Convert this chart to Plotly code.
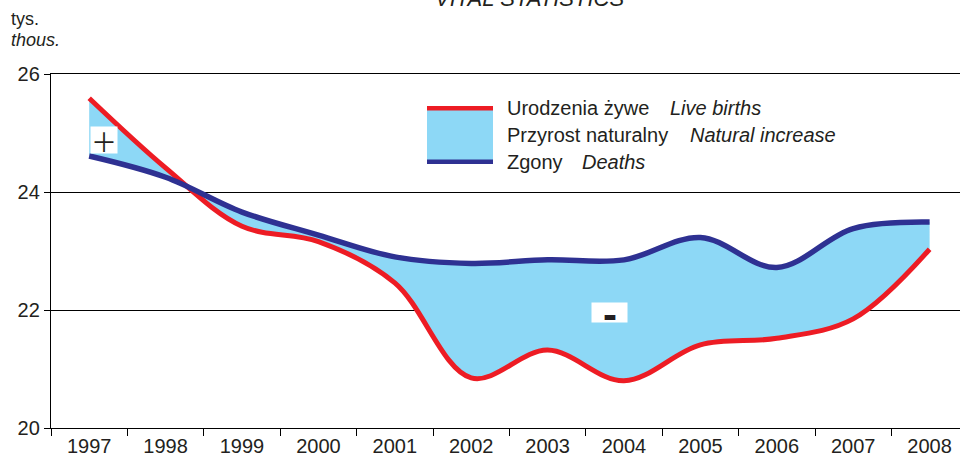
import plotly.graph_objects as go

# ---- data (thousands) ----
years = [1997, 1998, 1999, 2000, 2001, 2002, 2003, 2004, 2005, 2006, 2007, 2008]
year_labels = [str(y) for y in years]
births = [25.59, 24.41, 23.42, 23.16, 22.46, 20.85, 21.32, 20.80, 21.41, 21.52, 21.85, 23.03]
deaths = [24.61, 24.25, 23.66, 23.27, 22.90, 22.79, 22.85, 22.85, 23.23, 22.72, 23.38, 23.49]
y_ticks = [20, 22, 24, 26]

RED = "#ED1C24"
BLUE = "#2E3192"
LIGHT = "#8DD8F6"
TXT = "#231F20"
FONT = "Liberation Sans, Arial, sans-serif"

W, H = 960, 456
L, R, T, B = 51, 0, 74, 28
PW, PH = W - L - R, H - T - B


def px(x):
    return (x - L) / PW


def py(y):
    return (H - B - y) / PH


fig = go.Figure()
fig.add_trace(go.Scatter(
    x=years, y=births, mode="lines",
    line=dict(color=RED, width=5, shape="spline", smoothing=1.0),
    showlegend=False, hoverinfo="skip"))
fig.add_trace(go.Scatter(
    x=years, y=deaths, mode="lines",
    line=dict(color=BLUE, width=5.5, shape="spline", smoothing=1.0),
    fill="tonexty", fillcolor=LIGHT,
    showlegend=False, hoverinfo="skip"))

shapes = []
# legend symbol
shapes.append(dict(type="rect", xref="paper", yref="paper",
                   x0=px(427), x1=px(493), y0=py(164), y1=py(106),
                   fillcolor=LIGHT, line=dict(width=0)))
shapes.append(dict(type="line", xref="paper", yref="paper",
                   x0=px(427), x1=px(493), y0=py(108.3), y1=py(108.3),
                   line=dict(color=RED, width=4.5)))
shapes.append(dict(type="line", xref="paper", yref="paper",
                   x0=px(427), x1=px(493), y0=py(161.7), y1=py(161.7),
                   line=dict(color=BLUE, width=4.5)))

ann = []


def text(x, y, s, size=20, italic=False, xanchor="left", yanchor="middle", **kw):
    ann.append(dict(xref="paper", yref="paper", x=px(x), y=py(y), text=s,
                    showarrow=False, xanchor=xanchor, yanchor=yanchor,
                    font=dict(family=FONT, size=size, color=TXT,
                              style="italic" if italic else "normal"), **kw))


text(529, 13, "VITAL STATISTICS", size=22, italic=True, xanchor="center", yanchor="bottom")
text(9, 19, "tys.", size=18)
text(9, 40, "thous.", size=18, italic=True)

text(505, 108.3, "Urodzenia żywe")
text(668, 108.3, "Live births", italic=True)
text(505, 135, "Przyrost naturalny")
text(688, 135, "Natural increase", italic=True)
text(505, 161.7, "Zgony")
text(580, 161.7, "Deaths", italic=True)

# + / - markers
ann.append(dict(xref="paper", yref="paper", x=px(104), y=py(140), text=" ",
                showarrow=False, width=26, height=26, bgcolor="white",
                borderpad=0, xanchor="center", yanchor="middle"))
ann.append(dict(xref="paper", yref="paper", x=px(104), y=py(140), text="＋",
                showarrow=False, xanchor="center", yanchor="middle",
                font=dict(family="Noto Sans CJK SC", size=26, color=TXT)))
ann.append(dict(xref="paper", yref="paper", x=px(609), y=py(312.3), text=" ",
                showarrow=False, width=35, height=19, bgcolor="white",
                borderpad=0, xanchor="center", yanchor="middle"))
ann.append(dict(xref="paper", yref="paper", x=px(609.5), y=py(314.5), text="<b>-</b>",
                showarrow=False, xanchor="center", yanchor="middle",
                font=dict(family=FONT, size=42, color=TXT)))

fig.update_layout(
    width=W, height=H,
    margin=dict(l=L, r=R, t=T, b=B, pad=0, autoexpand=False),
    paper_bgcolor="white", plot_bgcolor="white",
    shapes=shapes, annotations=ann,
    font=dict(family=FONT, size=20, color=TXT),
    xaxis=dict(range=[1996.5, 1996.5 + PW / 76.4], tickmode="array",
               tickvals=years, ticktext=year_labels,
               ticks="", automargin=False,
               showgrid=False, zeroline=False,
               showline=True, linecolor="black", linewidth=1.3, mirror=True,
               minor=dict(ticks="outside", ticklen=7, tickcolor="black",
                          tickwidth=1.3, tick0=1996.5, dtick=1, showgrid=False),
               tickfont=dict(family=FONT, size=20, color=TXT)),
    yaxis=dict(range=[20, 26], tickmode="array", tickvals=y_ticks,
               ticks="outside", ticklen=6, tickcolor="black", tickwidth=1.3,
               automargin=False,
               showgrid=True, gridcolor="black", gridwidth=1.2, zeroline=False,
               showline=True, linecolor="black", linewidth=1.3,
               tickfont=dict(family=FONT, size=20, color=TXT)),
)

fig.write_html(
    "out.html",
    config={"displayModeBar": False},
    post_script="document.body.style.margin='0';document.body.style.overflow='hidden';",
)
